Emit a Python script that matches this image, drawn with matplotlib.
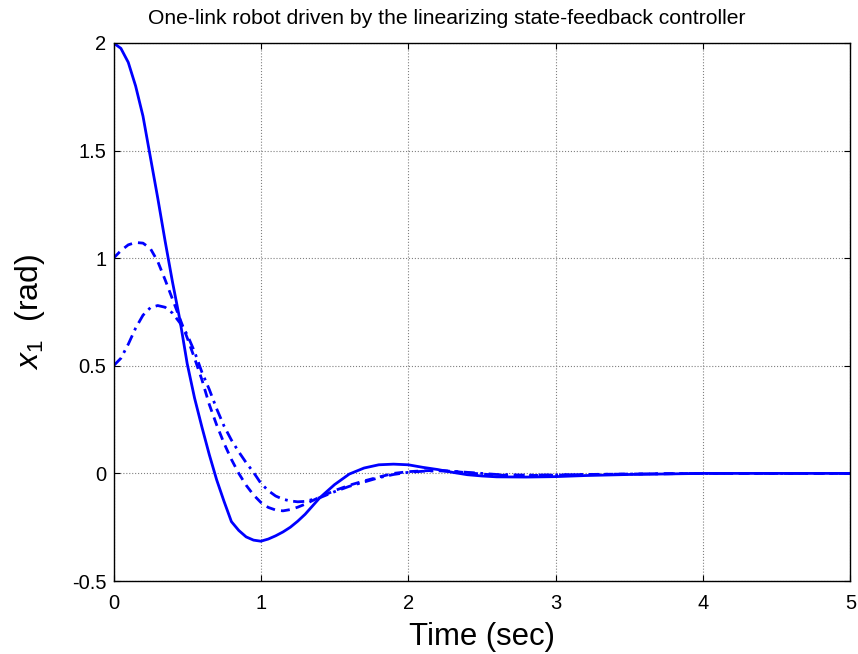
import matplotlib

matplotlib.use("Agg")

import matplotlib.pyplot as plt

plt.rcParams["font.family"] = ["Liberation Sans", "DejaVu Sans"]
plt.rcParams["mathtext.fontset"] = "custom"
plt.rcParams["mathtext.rm"] = "Liberation Sans"
plt.rcParams["mathtext.it"] = "Liberation Sans:italic"

TITLE = "One-link robot driven by the linearizing state-feedback controller"
X_LABEL = "Time (sec)"
Y_LABEL = r"$\mathit{x}_1$  (rad)"

time = [0, 0.05, 0.1, 0.15, 0.2, 0.25, 0.3, 0.35, 0.4, 0.45,
        0.5, 0.55, 0.6, 0.65, 0.7, 0.75, 0.8, 0.85, 0.9, 0.95,
        1.0, 1.05, 1.1, 1.15, 1.2, 1.25, 1.3, 1.4, 1.5, 1.6,
        1.7, 1.8, 1.9, 2.0, 2.1, 2.2, 2.3, 2.4, 2.5, 2.6,
        2.8, 3.0, 3.2, 3.5, 4.0, 4.5, 5.0]

x1_from_2 = [2.0, 1.975, 1.91, 1.80, 1.66, 1.47, 1.28, 1.08, 0.89, 0.715,
             0.51, 0.35, 0.215, 0.087, -0.03, -0.13, -0.224, -0.265, -0.295, -0.31,
             -0.315, -0.305, -0.29, -0.272, -0.25, -0.222, -0.19, -0.113, -0.052, -0.003,
             0.025, 0.04, 0.043, 0.04, 0.028, 0.018, 0.005, -0.006, -0.012, -0.016,
             -0.017, -0.015, -0.01, -0.005, 0.0, 0.0, 0.0]

x1_from_1 = [1.0, 1.035, 1.062, 1.073, 1.07, 1.045, 0.985, 0.90, 0.81, 0.72,
             0.63, 0.535, 0.435, 0.32, 0.225, 0.14, 0.065, 0.0, -0.055, -0.10,
             -0.135, -0.158, -0.17, -0.174, -0.168, -0.157, -0.143, -0.11, -0.08, -0.055,
             -0.035, -0.017, 0.0, 0.008, 0.012, 0.014, 0.01, 0.003, -0.003, -0.008,
             -0.01, -0.008, -0.005, -0.003, 0.0, 0.0, 0.0]

x1_from_05 = [0.5, 0.535, 0.60, 0.675, 0.735, 0.77, 0.78, 0.772, 0.745, 0.70,
              0.645, 0.565, 0.47, 0.39, 0.30, 0.22, 0.155, 0.10, 0.05, 0.005,
              -0.046, -0.08, -0.105, -0.12, -0.128, -0.132, -0.13, -0.113, -0.085, -0.06,
              -0.04, -0.02, -0.005, 0.005, 0.01, 0.012, 0.01, 0.005, 0.0, -0.005,
              -0.008, -0.007, -0.005, -0.003, 0.0, 0.0, 0.0]

x_ticks = [0, 1, 2, 3, 4, 5]
y_ticks = [-0.5, 0, 0.5, 1, 1.5, 2]
y_tick_labels = ["-0.5", "0", "0.5", "1", "1.5", "2"]

fig = plt.figure(figsize=(8.58, 6.54), dpi=100)
ax = fig.add_axes([0.1323, 0.1116, 0.8588, 0.8227])

ax.plot(time, x1_from_2, color="#0000ff", linestyle="-", linewidth=2)
ax.plot(time, x1_from_1, color="#0000ff", linestyle=(0, (3.2, 2.2)), linewidth=2)
ax.plot(time, x1_from_05, color="#0000ff", linestyle=(0, (4.0, 2.0, 1.0, 2.0)), linewidth=2)

ax.set_xlim(0, 5)
ax.set_ylim(-0.5, 2)
ax.set_xticks(x_ticks)
ax.set_xticklabels([str(v) for v in x_ticks])
ax.set_yticks(y_ticks)
ax.set_yticklabels(y_tick_labels)

ax.grid(True, linestyle=":", color="0.5", linewidth=0.8)
ax.tick_params(direction="in", length=4, width=0.8, top=True, right=True,
               labelsize=14.5, colors="black")
ax.tick_params(axis="x", pad=9)
ax.tick_params(axis="y", pad=5)
for spine in ax.spines.values():
    spine.set_linewidth(1.0)
    spine.set_color("black")

# title sits a little left of the axes centre, as in the source figure
fig.text(447 / 858, 1 - 18 / 654, TITLE, fontsize=15.2, ha="center", va="center")
ax.set_xlabel(X_LABEL, fontsize=22.4, labelpad=7)
ax.set_ylabel(Y_LABEL, fontsize=23, labelpad=18)

fig.savefig("out.png", dpi=100)
